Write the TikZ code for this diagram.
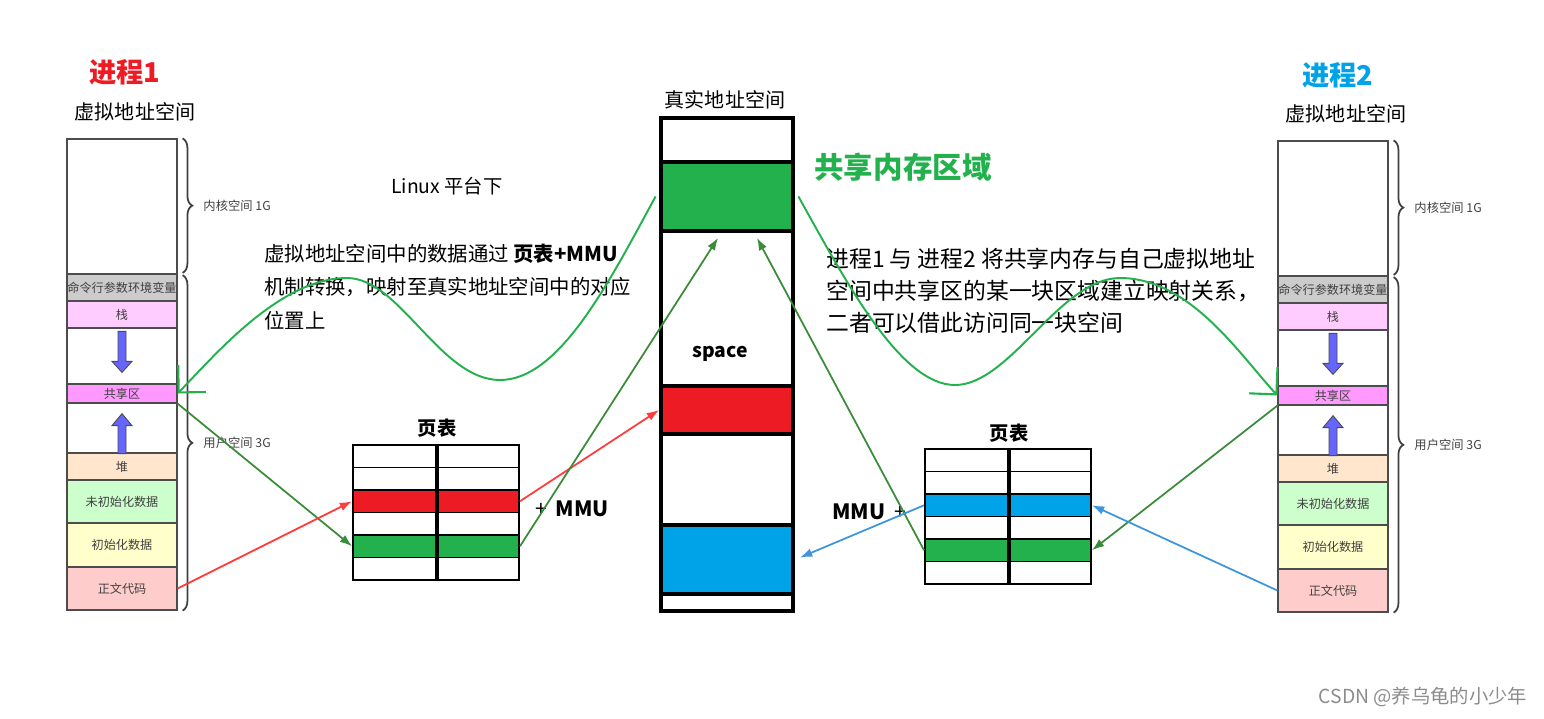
\documentclass[tikz,border=0pt]{standalone}
\usepackage{fontspec}
\setmainfont{Noto Sans CJK SC}
\usepackage{tikz}
\usetikzlibrary{arrows.meta,calc,decorations.pathreplacing}
\definecolor{shgreen}{HTML}{22B14C}
\definecolor{shred}{HTML}{ED1C24}
\definecolor{shblue}{HTML}{00A2E8}
\definecolor{dkgreen}{HTML}{3A8C3A}
\definecolor{lnred}{HTML}{FF3B3B}
\definecolor{lnblue}{HTML}{3D95DE}
\definecolor{argvgray}{HTML}{CCCCCC}
\definecolor{stackpink}{HTML}{FFCCFF}
\definecolor{shmpink}{HTML}{FF99FF}
\definecolor{heapc}{HTML}{FFE6CC}
\definecolor{bssc}{HTML}{CCFFCC}
\definecolor{datac}{HTML}{FFFFCC}
\definecolor{textc}{HTML}{FFCCCC}
\definecolor{growc}{HTML}{6666FF}

\begin{document}
\begin{tikzpicture}[x=0.02cm,y=-0.02cm,
  cell/.style={draw=black!70,line width=0.7pt,minimum width=2.2cm,inner sep=0pt,
               font=\fontsize{6.9}{8}\selectfont,text=black!75},
  mcell/.style={draw=black,line width=2.2pt,minimum width=2.64cm,inner sep=0pt},
  pcell/.style={draw=black,line width=1.1pt,minimum width=1.66cm,
                minimum height=0.45cm,inner sep=0pt},
  ttl/.style={font=\fontsize{11.4}{13}\selectfont},
  proc/.style={font=\fontsize{15.5}{18}\selectfont\bfseries},
  note/.style={anchor=west,align=left,inner sep=0pt},
  arr/.style={-{Latex[length=7pt,width=5pt]},line width=1pt},
  wave/.style={shgreen,line width=1.1pt,
               -{Straight Barb[length=11pt,width=22pt,line width=1.2pt]}},
  brc/.style={decorate,decoration={brace,amplitude=5.5pt},draw=black!75,line width=1pt},
  growarr/.style={draw=black!70,fill=growc,line width=0.5pt}
]
\useasboundingbox (0,0) rectangle (1544,718);

% 虚拟地址空间（进程1 / 进程2）
\foreach \p/\cx/\dy in {a/122/0,b/1333/2}{
  \foreach \n/\yc/\h/\fc/\tx in {kern/206.5/135/white/{},argv/287.5/27/argvgray/命令行参数环境变量,
      stack/314.5/27/stackpink/栈,gap1/356/56/white/{},shm/393.5/19/shmpink/共享区,
      gap2/428/50/white/{},heap/466.5/27/heapc/堆,bss/501.5/43/bssc/未初始化数据,
      data/545/44/datac/初始化数据,text/588.5/43/textc/正文代码}{
    \node[cell,fill=\fc,minimum height=\h*0.02cm] (\p\n) at (\cx,\yc+\dy) {\tx};
  }
  \draw[growarr] ($(\p gap1.north)+(-4,4)$) -- ++(8,0) -- ++(0,30) -- ++(6,0)
    -- ++(-10,11) -- ++(-10,-11) -- ++(6,0) -- cycle;
  \draw[growarr] ($(\p gap2.south)+(-4,0)$) -- ++(8,0) -- ++(0,-28) -- ++(6,0)
    -- ++(-10,-12) -- ++(-10,12) -- ++(6,0) -- cycle;
  \draw[brc] ([xshift=0.1cm]\p kern.north east) -- ([xshift=0.1cm,yshift=1pt]\p kern.south east)
    node[midway,anchor=west,inner sep=0pt,xshift=0.4cm,font=\fontsize{7}{8}\selectfont,
         text=black!75] {内核空间 1G};
  \draw[brc] ([xshift=0.1cm,yshift=-1pt]\p argv.north east) -- ([xshift=0.1cm]\p text.south east)
    node[midway,anchor=west,inner sep=0pt,xshift=0.4cm,font=\fontsize{7}{8}\selectfont,
         text=black!75] {用户空间 3G};
}

% 真实地址空间
\foreach \n/\yc/\h/\fc in {m1/140/44/white,mgreen/196.5/69/shgreen,mspace/308.5/155/white,
    mred/410/48/shred,m5/479.5/91/white,mblue/559.5/69/shblue,m7/602.5/17/white}{
  \node[mcell,fill=\fc,minimum height=\h*0.02cm] (\n) at (727,\yc) {};
}
\node[font=\fontsize{11}{13}\selectfont\bfseries] (spacetxt) at (720,354) {space};

% 页表
\foreach \tb/\tcx/\ty/\cc in {pa/436/445/shred,pb/1008/449/shblue}{
  \foreach \rw/\fc in {1/white,2/white,3/\cc,4/white,5/shgreen,6/white}{
    \node[pcell,fill=\fc] (\tb\rw l) at (\tcx-41.5,\ty+22.5*\rw-11.25) {};
    \node[pcell,fill=\fc] (\tb\rw r) at (\tcx+41.5,\ty+22.5*\rw-11.25) {};
  }
  \draw[line width=1.8pt] (\tb1l.north east) -- (\tb6l.south east);
}
\node[font=\fontsize{11}{13}\selectfont\bfseries] (patl) at (437,428) {页表};
\node[font=\fontsize{11}{13}\selectfont\bfseries] (pbtl) at (1009,433) {页表};

% 文字
\node[proc,text=shred] (p1) at (125,72) {进程1};
\node[ttl] (v1) at (135,112) {虚拟地址空间};
\node[proc,text=shblue] (p2) at (1338,75) {进程2};
\node[ttl] (v2) at (1346,114) {虚拟地址空间};
\node[ttl] (real) at (725,100) {真实地址空间};
\node[font=\fontsize{16.8}{20}\selectfont\bfseries,text=shgreen] (shtitle) at (903,167) {共享内存区域};
\node[font=\fontsize{11}{13}\selectfont] (linux) at (447,186) {Linux 平台下};
\node[note,font=\fontsize{11.6}{19.3}\selectfont] (note1) at (264,287)
  {虚拟地址空间中的数据通过 \textbf{页表+MMU}\\机制转换，映射至真实地址空间中的对应\\位置上};
\node[note,font=\fontsize{13}{18.2}\selectfont] (note2) at (826,291)
  {进程1 与 进程2 将共享内存与自己虚拟地址\\空间中共享区的某一块区域建立映射关系，\\二者可以借此访问同一块空间};
\node[font=\fontsize{12}{14}\selectfont] (mmu1) at (572,509) {+\hspace{5pt}\textbf{MMU}};
\node[font=\fontsize{12}{14}\selectfont] (mmu2) at (869,512) {\textbf{MMU}\hspace{5pt}+};
\node[font=\fontsize{11}{13}\selectfont,text=black!45] (wm) at (1423,697) {CSDN @养乌龟的小少年};

% 映射关系
\draw[wave] ([xshift=-2pt]mgreen.west) .. controls (610,280) and (560,380) .. (500,380)
  .. controls (440,380) and (400,278) .. (347,278)
  .. controls (280,278) and (215,355) .. (ashm.east);
\draw[wave] ([xshift=2pt]mgreen.east) .. controls (845,280) and (900,385) .. (955,385)
  .. controls (1010,385) and (1060,278) .. (1120,278)
  .. controls (1190,278) and (1240,355) .. (bshm.west);

\draw[arr,dkgreen] (ashm.south east) -- (pa5l.west);
\draw[arr,lnred] (atext.east) -- (pa3l.west);
\draw[arr,lnred] (pa3r.east) -- (mred.west);
\draw[arr,dkgreen] (pa5r.east) -- ($(mgreen.south)+(-9,5)$);
\draw[arr,dkgreen] (pb5l.west) -- ($(mgreen.south)+(30,5)$);
\draw[arr,lnblue] (pb3l.west) -- ($(mblue.east)+(5,-2)$);
\draw[arr,dkgreen] (bshm.south west) -- (pb5r.east);
\draw[arr,lnblue] (btext.west) -- (pb3r.east);
\end{tikzpicture}
\end{document}
